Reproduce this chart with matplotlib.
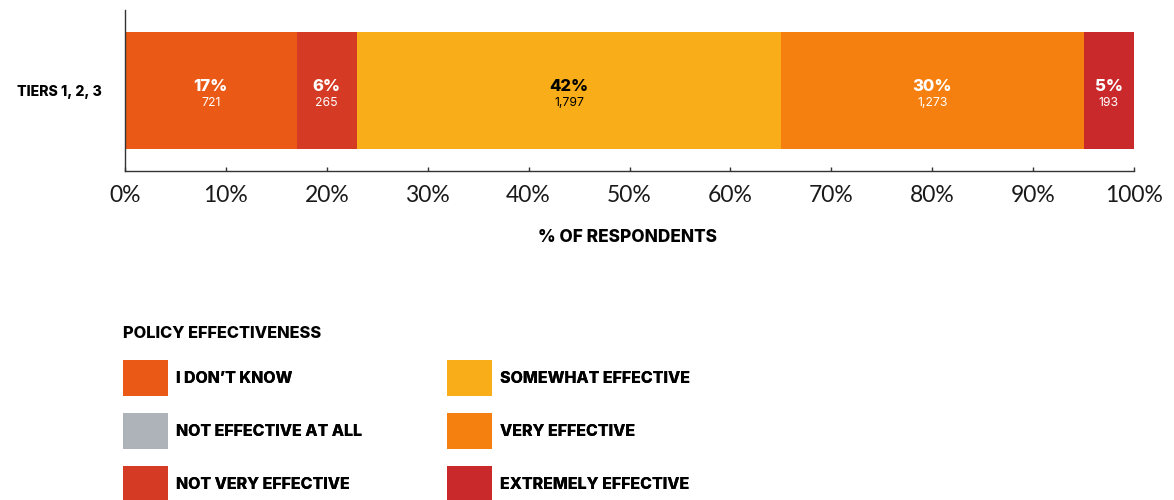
import matplotlib
matplotlib.use("Agg")
import matplotlib.pyplot as plt
from matplotlib.patches import Patch

# Survey data: share of respondents by perceived policy effectiveness
group = "TIERS 1, 2, 3"
categories = ["I DON\u2019T KNOW", "NOT EFFECTIVE AT ALL", "NOT VERY EFFECTIVE",
              "SOMEWHAT EFFECTIVE", "VERY EFFECTIVE", "EXTREMELY EFFECTIVE"]
percents = [17, 0, 6, 42, 30, 5]
counts = [721, 0, 265, 1797, 1273, 193]
colors = ["#EA5A16", "#ADB3B9", "#D43A24", "#F9AE19", "#F6800F", "#C9292B"]
text_colors = ["white", "white", "white", "black", "white", "white"]
xticks = [0, 10, 20, 30, 40, 50, 60, 70, 80, 90, 100]
xlabel = "% OF RESPONDENTS"
legend_title = "POLICY EFFECTIVENESS"

BOLD = "Inter"
HEAVY = 800
W, H = 1174, 500
fig = plt.figure(figsize=(W / 100, H / 100), dpi=100)
ax = fig.add_axes([125 / W, 1 - 171 / H, (1134 - 125) / W, (171 - 10) / H])

left = 0
for pct, cnt, col, tcol in zip(percents, counts, colors, text_colors):
    if pct > 0:
        ax.barh(0, pct, left=left, height=0.8, color=col, linewidth=0)
        cx = left + pct / 2
        ax.annotate(f"{pct}%", (cx, 0), xytext=(0, 3), textcoords="offset points",
                    ha="center", va="center", color=tcol, fontsize=12,
                    fontweight=HEAVY, family=BOLD)
        ax.annotate(f"{cnt:,}", (cx, 0), xytext=(0, -9.3), textcoords="offset points",
                    ha="center", va="center", color=tcol, fontsize=8.8, family=BOLD)
    left += pct

ax.set_xlim(0, 100)
ax.set_ylim(-0.55, 0.55)
ax.set_xticks(xticks)
ax.set_xticklabels([f"{t}%" for t in xticks], fontsize=16.5, family="Lato",
                   fontweight="normal", color="#1a1a1a")
ax.set_yticks([0])
ax.set_yticklabels([group], fontsize=10.2, fontweight=HEAVY, family=BOLD)
ax.tick_params(axis="x", direction="in", length=3, width=1, color="#333333", pad=10)
ax.tick_params(axis="y", length=0, pad=17)
for s in ["top", "right"]:
    ax.spines[s].set_visible(False)
for s in ["left", "bottom"]:
    ax.spines[s].set_color("#333333")
    ax.spines[s].set_linewidth(1)

fig.text(628 / W, 1 - 237 / H, xlabel, ha="center", va="center", fontsize=12.4,
         fontweight=HEAVY, family=BOLD)

# Legend: title plus two columns of three entries
fig.text(123 / W, 1 - 333 / H, legend_title, ha="left", va="center", fontsize=11.8,
         fontweight=HEAVY, family=BOLD)
fs = 11.5
fs_px = fs * 100 / 72
patch_h = 36 / fs_px
handles = [Patch(facecolor=c, edgecolor="none", label=l) for c, l in zip(colors, categories)]
for col, x0 in enumerate([123, 447]):
    leg = fig.legend(handles=handles[col * 3:col * 3 + 3], loc="upper left",
                     bbox_to_anchor=(x0 / W, 1 - 360 / H), frameon=False,
                     borderpad=0, borderaxespad=0,
                     handlelength=45 / fs_px, handleheight=(patch_h - 0.245) / 0.65,
                     handletextpad=8 / fs_px, labelspacing=(53 - 36) / fs_px,
                     prop={"family": BOLD, "weight": HEAVY, "size": fs})
    fig.add_artist(leg)

fig.savefig("out.png", dpi=100)
